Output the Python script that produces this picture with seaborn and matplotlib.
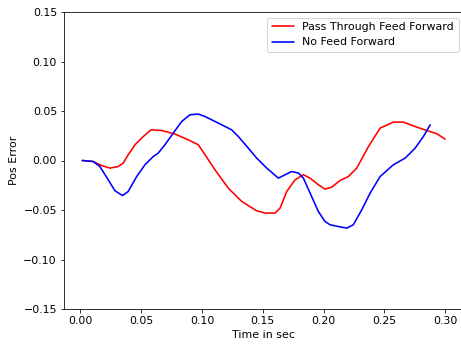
import matplotlib
matplotlib.use("Agg")
import matplotlib.pyplot as plt
import pandas as pd
import seaborn as sns

t_ff = [0.0015, 0.0105, 0.0174, 0.0243, 0.0311, 0.0352, 0.0393, 0.0449, 0.0517, 0.0580,
        0.0668, 0.0778, 0.0887, 0.0970, 0.1025, 0.1107, 0.1216, 0.1327, 0.1450, 0.1519,
        0.1601, 0.1642, 0.1697, 0.1765, 0.1834, 0.1889, 0.1957, 0.2012, 0.2067, 0.2136,
        0.2204, 0.2273, 0.2369, 0.2465, 0.2574, 0.2657, 0.2753, 0.2849, 0.2932, 0.3000]
err_ff = [0.0, -0.0010, -0.0051, -0.0077, -0.0061, -0.0026, 0.0058, 0.0159, 0.0242, 0.0310,
          0.0303, 0.0267, 0.0209, 0.0159, 0.0058, -0.0094, -0.0279, -0.0414, -0.0508, -0.0531,
          -0.0531, -0.0481, -0.0313, -0.0195, -0.0144, -0.0178, -0.0245, -0.0289, -0.0269, -0.0202,
          -0.0162, -0.0077, 0.0141, 0.0327, 0.0388, 0.0388, 0.0343, 0.0303, 0.0270, 0.0216]

t_noff = [0.0015, 0.0105, 0.0160, 0.0229, 0.0284, 0.0347, 0.0393, 0.0463, 0.0531, 0.0599,
          0.0640, 0.0695, 0.0764, 0.0833, 0.0901, 0.0970, 0.1025, 0.1052, 0.1134, 0.1244,
          0.1299, 0.1381, 0.1450, 0.1533, 0.1628, 0.1683, 0.1738, 0.1793, 0.1834, 0.1889,
          0.1957, 0.2012, 0.2053, 0.2122, 0.2191, 0.2245, 0.2314, 0.2383, 0.2465, 0.2574,
          0.2671, 0.2753, 0.2821, 0.2877]
err_noff = [0.0, -0.0010, -0.0061, -0.0195, -0.0306, -0.0354, -0.0313, -0.0162, -0.0043, 0.0040,
            0.0075, 0.0159, 0.0277, 0.0394, 0.0462, 0.0469, 0.0444, 0.0428, 0.0378, 0.0310,
            0.0242, 0.0125, 0.0024, -0.0077, -0.0178, -0.0144, -0.0111, -0.0127, -0.0178, -0.0329,
            -0.0515, -0.0616, -0.0649, -0.0667, -0.0683, -0.0649, -0.0498, -0.0329, -0.0162, -0.0043,
            0.0024, 0.0125, 0.0242, 0.0361]

labels = ["Pass Through Feed Forward", "No Feed Forward"]

df = pd.concat([
    pd.DataFrame({"t": t_ff, "err": err_ff, "series": labels[0]}),
    pd.DataFrame({"t": t_noff, "err": err_noff, "series": labels[1]}),
])

sns.set_style("ticks", rc={"text.color": "black", "axes.labelcolor": "black",
                           "xtick.color": "black", "ytick.color": "black",
                           "axes.edgecolor": "black"})
plt.rcParams["font.family"] = ["DejaVu Sans"]
plt.rcParams["font.size"] = 11

fig = plt.figure(figsize=(461 / 72, 348 / 72), dpi=72)
ax = fig.add_axes([64 / 461, 39 / 348, 400 / 461, 297 / 348])
sns.lineplot(data=df, x="t", y="err", hue="series", hue_order=labels,
             palette=["red", "blue"], sort=False, estimator=None, linewidth=1.6, ax=ax)

ax.set_xlim(-0.0135, 0.3155)
ax.set_ylim(-0.15, 0.15)
ax.set_xticks([0.0, 0.05, 0.10, 0.15, 0.20, 0.25, 0.30])
ax.set_yticks([-0.15, -0.10, -0.05, 0.0, 0.05, 0.10, 0.15])
ax.set_xlabel("Time in sec")
ax.set_ylabel("Pos Error")
ax.legend(loc="upper right", title=None)
ax.spines["right"].set_visible(False)
for s in ["left", "bottom", "top"]:
    ax.spines[s].set_visible(True)

fig.savefig("out.png", dpi=72)
plt.close(fig)
